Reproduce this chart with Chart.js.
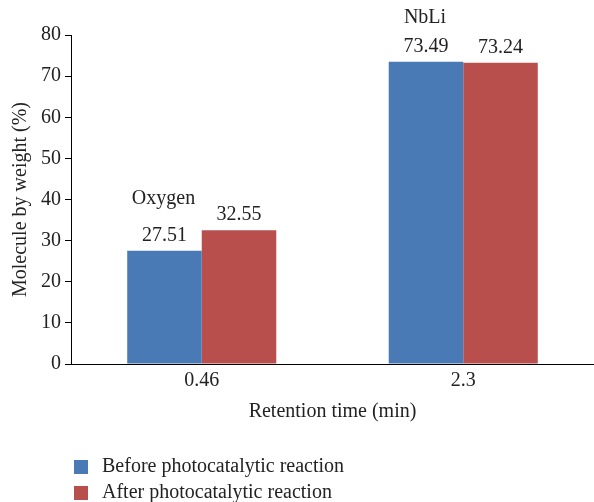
<!DOCTYPE html>
<html>
<head>
<meta charset="utf-8">
<script src="https://cdn.jsdelivr.net/npm/chart.js@4.4.0/dist/chart.umd.min.js"></script>
<style>
  html, body { margin: 0; padding: 0; background: #fff; }
  #wrap { width: 594px; height: 502px; }
</style>
</head>
<body>
<div id="wrap"><canvas id="grafico" width="594" height="502"></canvas></div>
<script>
// Dados do gráfico
const categorias = ['0.46', '2.3'];
const antes = [27.51, 73.49];
const depois = [32.55, 73.24];
const compostos = ['Oxygen', 'NbLi'];
const nomesSeries = ['Before photocatalytic reaction', 'After photocatalytic reaction'];
const coresSeries = ['#4a7ab5', '#b84f4c'];

const fonte = "'Liberation Serif', 'DejaVu Serif', serif";
const tamanho = 20;

// Rótulos de valor + nomes dos compostos + legenda vertical
const rotulosPlugin = {
    id: 'rotulos',
    afterDatasetsDraw(chart) {
        const ctx = chart.ctx;
        const recuoComposto = [52, 44]; // distância do nome acima da barra
        ctx.save();
        ctx.fillStyle = '#222';
        ctx.font = tamanho + 'px ' + fonte;
        ctx.textAlign = 'center';
        ctx.textBaseline = 'middle';
        chart.data.datasets.forEach((ds, i) => {
            chart.getDatasetMeta(i).data.forEach((bar, j) => {
                ctx.fillText(ds.data[j].toFixed(2), bar.x, bar.y - 15);
                if (i === 0) {
                    ctx.fillText(compostos[j], bar.x - 1, bar.y - recuoComposto[j]);
                }
            });
        });

        // legenda
        ctx.textAlign = 'left';
        nomesSeries.forEach((nome, i) => {
            const y = 467 + i * 26;
            ctx.fillStyle = coresSeries[i];
            ctx.fillRect(74, y - 7, 14, 14);
            ctx.fillStyle = '#222';
            ctx.fillText(nome, 102, y);
        });
        ctx.restore();
    }
};

const ctx = document.getElementById('grafico').getContext('2d');
const grafico = new Chart(ctx, {
    type: 'bar',
    data: {
        labels: categorias,
        datasets: [
            {
                label: nomesSeries[0],
                data: antes,
                backgroundColor: coresSeries[0],
                categoryPercentage: 0.57,
                barPercentage: 1
            },
            {
                label: nomesSeries[1],
                data: depois,
                backgroundColor: coresSeries[1],
                categoryPercentage: 0.57,
                barPercentage: 1
            }
        ]
    },
    options: {
        responsive: false,
        animation: false,
        layout: {
            padding: { top: 35, right: 0, bottom: 74, left: 5 }
        },
        plugins: {
            legend: { display: false },
            tooltip: { enabled: false }
        },
        scales: {
            x: {
                grid: { display: false },
                border: { display: true, color: '#000', width: 1 },
                ticks: {
                    color: '#222',
                    font: { family: fonte, size: tamanho },
                    padding: -3
                },
                title: {
                    display: true,
                    text: 'Retention time (min)',
                    color: '#222',
                    font: { family: fonte, size: tamanho },
                    padding: { top: 10 }
                }
            },
            y: {
                min: 0,
                max: 80,
                ticks: {
                    stepSize: 10,
                    color: '#222',
                    font: { family: fonte, size: tamanho },
                    padding: 4
                },
                grid: {
                    drawOnChartArea: false,
                    drawTicks: true,
                    tickLength: 6,
                    color: '#000'
                },
                border: { display: true, color: '#000', width: 1 },
                title: {
                    display: true,
                    text: 'Molecule by weight (%)',
                    color: '#222',
                    font: { family: fonte, size: tamanho },
                    padding: { bottom: 4 }
                }
            }
        }
    },
    plugins: [rotulosPlugin]
});
</script>
</body>
</html>
